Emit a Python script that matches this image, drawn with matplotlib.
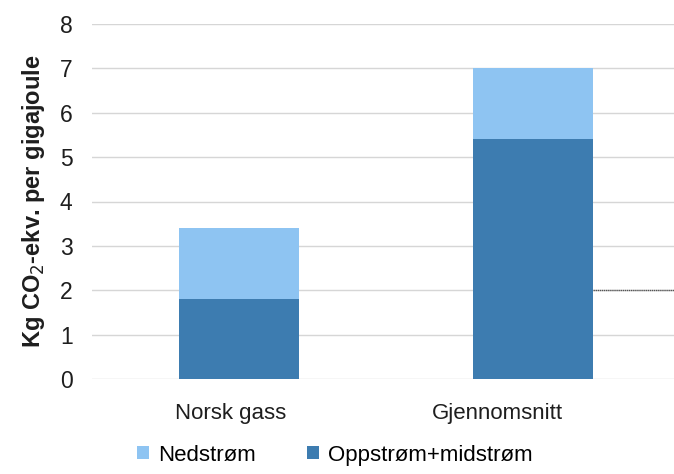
import matplotlib
matplotlib.use("Agg")
import matplotlib.pyplot as plt
from matplotlib.transforms import ScaledTranslation

plt.rcParams['font.family'] = ['Liberation Sans', 'DejaVu Sans']

categories = ["Norsk gass", "Gjennomsnitt"]
oppstrom_midstrom = [1.8, 5.4]
nedstrom = [1.6, 1.6]
y_ticks = [0, 1, 2, 3, 4, 5, 6, 7, 8]

dark_blue = "#3d7cb0"
light_blue = "#8ec4f2"
text_color = "#1e1e1e"
fs = 16

fig = plt.figure(figsize=(6.74, 4.74), dpi=100)
ax = fig.add_axes([92 / 674, 95 / 474, 588 / 674, 355 / 474])

x = list(range(len(categories)))
width = 0.405
ax.bar(x, oppstrom_midstrom, width=width, color=dark_blue, zorder=3,
       label="Oppstrøm+midstrøm")
ax.bar(x, nedstrom, width=width, bottom=oppstrom_midstrom, color=light_blue,
       zorder=3, label="Nedstrøm")

ax.set_xlim(-0.5, 1.5)
ax.set_ylim(0, 8)
ax.set_yticks(y_ticks)
ax.set_xticks(x)
ax.set_xticklabels(categories, fontsize=fs, color=text_color)
ax.tick_params(axis='y', labelsize=16.5, colors=text_color, length=0, pad=14)
ax.tick_params(axis='x', length=0, pad=17)

# category labels sit slightly left of the bar centres
for lbl, dx in zip(ax.get_xticklabels(), [-8, -36]):
    lbl.set_transform(lbl.get_transform() + ScaledTranslation(dx / 100, 0, fig.dpi_scale_trans))

ax.grid(axis='y', color="#d6d6d6", linewidth=1.0, zorder=0)
ax.set_axisbelow(True)
for s in ax.spines.values():
    s.set_visible(False)

# dark reference segment at y=2 to the right of the second bar
ax.plot([1 + width / 2, 1.5], [2, 2], color="#555555", linewidth=1.0,
        linestyle=(0, (1, 0.5)), zorder=4, clip_on=False)

ax.set_ylabel("Kg CO$_2$-ekv. per gigajoule", fontsize=17, fontweight="bold",
              color=text_color, labelpad=9)

handles, labels = ax.get_legend_handles_labels()
fig.legend(handles[::-1], labels[::-1], loc="center", bbox_to_anchor=(0.497, 0.04),
           ncol=2, frameon=False, fontsize=fs, handlelength=0.55,
           handleheight=0.55, handletextpad=0.4, columnspacing=2.3)

fig.savefig("out.png", dpi=100)
